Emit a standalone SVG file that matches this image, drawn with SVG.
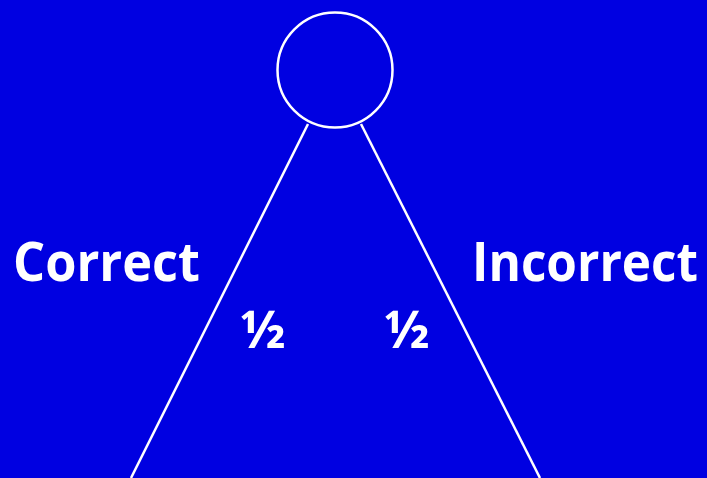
<svg xmlns="http://www.w3.org/2000/svg" width="707" height="478" viewBox="0 0 707 478">
<style>
.l{stroke:#fff;stroke-width:2.5;fill:none}
.t{font-family:"Open Sans","Liberation Sans",sans-serif;font-weight:bold;fill:#fff}
</style>
<rect width="707" height="478" fill="#0000E1"/>
<g id="connectors">
<line class="l" x1="308" y1="124" x2="131" y2="478"/>
<line class="l" x1="361" y1="124" x2="540" y2="478"/>
</g>
<g id="root"><circle class="l" cx="335" cy="70" r="57.5"/></g>
<g id="correct"><text class="t" x="13" y="281" font-size="54" textLength="187" lengthAdjust="spacingAndGlyphs">Correct</text></g>
<g id="incorrect"><text class="t" x="472" y="281" font-size="54" textLength="226" lengthAdjust="spacingAndGlyphs">Incorrect</text></g>
<g id="half1"><text class="t" x="263" y="348" font-size="52" text-anchor="middle">½</text></g>
<g id="half2"><text class="t" x="407" y="348" font-size="52" text-anchor="middle">½</text></g>
</svg>
